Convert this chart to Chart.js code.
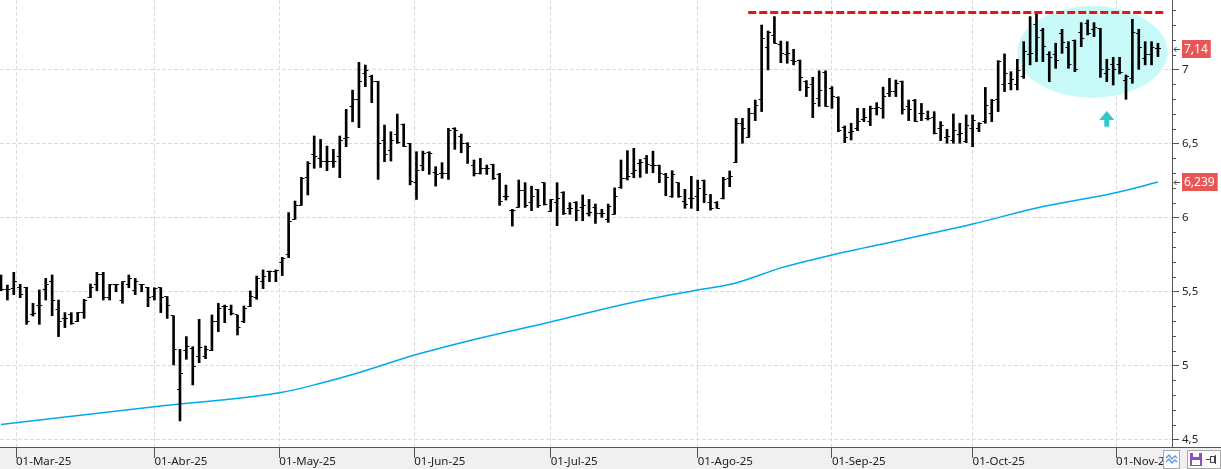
<!DOCTYPE html>
<html>
<head>
<meta charset="utf-8">
<script src="https://cdn.jsdelivr.net/npm/chart.js@4.4.1/dist/chart.umd.min.js"></script>
<style>
html, body { margin: 0; padding: 0; background: #fff; overflow: hidden; }
#wrap { position: relative; width: 1221px; height: 469px; }
.btn { position: absolute; box-sizing: border-box; border: 1px solid #a9a9a9; background: #fbfbfb; }
.btn svg { display: block; }
</style>
</head>
<body>
<div id="wrap">
  <canvas id="chart" width="1221" height="469"></canvas>
  <div class="btn" style="left:1163px;top:450px;width:17px;height:19px">
    <svg width="15" height="17" viewBox="0 0 15 17">
      <polyline points="2,7 5,4 8,8 11,5 13,7" fill="none" stroke="#5a9fe6" stroke-width="1.3"/>
      <polyline points="2,11 5,8 8,12 11,9 13,11" fill="none" stroke="#5a9fe6" stroke-width="1.3"/>
    </svg>
  </div>
  <div class="btn" style="left:1187px;top:450px;width:34px;height:19px">
    <svg width="32" height="17" viewBox="0 0 32 17">
      <rect x="2" y="2" width="12" height="13" fill="#8b4fc2"/>
      <rect x="5" y="2" width="6" height="4" fill="#fff"/>
      <rect x="4" y="9" width="8" height="5" fill="#fff"/>
      <line x1="18" y1="8.5" x2="22" y2="8.5" stroke="#444"/>
      <rect x="22.5" y="5.5" width="4" height="6" fill="none" stroke="#444"/>
      <line x1="27.5" y1="4" x2="27.5" y2="13" stroke="#444"/>
    </svg>
  </div>
</div>
<script>
// Cotización diaria (OHLC), 182 sesiones, feb-nov 2025
const openP = [
  5.549,5.511,5.52,5.529,5.529,5.342,5.403,5.511,5.567,5.380,
  5.319,5.342,5.297,5.360,5.459,5.549,5.612,5.461,5.549,5.443,
  5.549,5.504,5.549,5.529,5.466,5.526,5.466,5.337,4.840,5.100,
  5.117,5.061,5.061,5.101,5.297,5.398,5.380,5.342,5.297,5.398,
  5.461,5.567,5.634,5.634,5.695,5.752,5.988,6.082,6.271,6.428,
  6.400,6.380,6.377,6.410,6.530,6.748,6.797,6.970,6.950,6.920,
  6.523,6.450,6.563,6.631,6.500,6.235,6.354,6.440,6.302,6.298,
  6.298,6.600,6.550,6.500,6.354,6.300,6.330,6.360,6.290,6.140,
  6.044,6.068,6.180,6.100,6.190,6.235,6.040,6.100,6.170,6.060,
  6.100,6.066,6.030,6.070,6.024,5.987,6.021,6.200,6.260,6.300,
  6.365,6.399,6.350,6.350,6.290,6.140,6.235,6.107,6.130,6.140,
  6.253,6.100,6.100,6.130,6.260,6.370,6.636,6.541,6.700,6.798,
  7.149,7.230,7.170,7.100,7.059,7.060,6.920,6.900,6.800,6.980,
  6.870,6.810,6.610,6.573,6.600,6.660,6.650,6.737,6.737,6.840,
  6.850,6.920,6.750,6.788,6.703,6.670,6.676,6.600,6.541,6.520,
  6.560,6.510,6.600,6.600,6.650,6.700,6.798,6.900,6.906,6.900,
  6.950,7.100,7.300,7.260,7.100,7.100,7.243,7.150,7.198,7.248,
  7.310,7.270,7.277,6.970,7.030,7.030,6.924,6.940,7.240,7.074,
  7.100,7.140
];
const highP = [
  5.612,5.544,5.630,5.549,5.529,5.421,5.511,5.589,5.612,5.443,
  5.358,5.358,5.360,5.448,5.551,5.630,5.630,5.549,5.549,5.567,
  5.612,5.589,5.549,5.529,5.526,5.526,5.466,5.337,5.110,5.196,
  5.128,5.313,5.133,5.342,5.421,5.409,5.409,5.342,5.403,5.504,
  5.605,5.646,5.639,5.646,5.731,6.033,6.111,6.271,6.377,6.550,
  6.527,6.482,6.460,6.550,6.730,6.860,7.047,7.029,6.961,6.920,
  6.624,6.579,6.698,6.631,6.500,6.444,6.448,6.444,6.343,6.370,
  6.602,6.606,6.563,6.505,6.388,6.399,6.354,6.360,6.298,6.219,
  6.055,6.253,6.235,6.212,6.190,6.235,6.122,6.235,6.174,6.100,
  6.107,6.152,6.122,6.091,6.055,6.091,6.200,6.388,6.451,6.467,
  6.392,6.419,6.448,6.354,6.298,6.316,6.235,6.190,6.278,6.253,
  6.253,6.156,6.107,6.271,6.314,6.669,6.669,6.737,6.793,7.299,
  7.259,7.356,7.191,7.187,7.135,7.063,6.924,6.946,6.990,6.990,
  6.883,6.815,6.618,6.636,6.737,6.737,6.752,6.775,6.880,6.939,
  6.928,6.921,6.793,6.797,6.770,6.719,6.714,6.647,6.595,6.699,
  6.636,6.692,6.692,6.640,6.878,6.797,7.059,7.104,6.984,7.068,
  7.187,7.356,7.378,7.277,7.119,7.176,7.270,7.187,7.198,7.315,
  7.333,7.315,7.277,7.068,7.081,7.081,6.962,7.338,7.270,7.187,
  7.187,7.176
];
const lowP = [
  5.506,5.443,5.479,5.459,5.279,5.335,5.279,5.443,5.337,5.196,
  5.257,5.279,5.297,5.319,5.459,5.506,5.443,5.443,5.499,5.421,
  5.526,5.479,5.499,5.398,5.443,5.358,5.319,5.005,4.627,5.043,
  4.870,5.020,5.047,5.101,5.230,5.290,5.342,5.207,5.290,5.398,
  5.448,5.520,5.567,5.567,5.608,5.729,5.988,6.082,6.152,6.332,
  6.338,6.316,6.338,6.269,6.478,6.646,6.606,6.883,6.775,6.257,
  6.377,6.381,6.500,6.478,6.220,6.122,6.316,6.291,6.212,6.264,
  6.257,6.460,6.437,6.365,6.280,6.293,6.291,6.257,6.082,6.118,
  5.942,6.068,6.068,6.046,6.068,6.084,6.040,5.945,6.020,6.021,
  5.978,5.978,6.010,5.960,6.001,5.967,6.021,6.197,6.253,6.269,
  6.271,6.298,6.302,6.235,6.147,6.136,6.136,6.062,6.062,6.046,
  6.100,6.050,6.062,6.125,6.208,6.370,6.501,6.541,6.654,6.715,
  6.996,7.176,7.045,7.041,7.030,6.856,6.816,6.674,6.750,6.750,
  6.737,6.579,6.505,6.523,6.586,6.647,6.620,6.692,6.670,6.816,
  6.816,6.698,6.654,6.647,6.654,6.658,6.564,6.519,6.501,6.501,
  6.501,6.505,6.478,6.579,6.636,6.647,6.715,6.850,6.861,6.861,
  6.939,7.030,7.052,7.052,6.917,7.007,7.108,7.007,6.984,7.153,
  7.232,7.221,6.946,6.917,6.894,6.969,6.798,6.906,7.000,7.030,
  7.030,7.086
];
const closeP = [
  5.511,5.511,5.567,5.481,5.301,5.353,5.403,5.549,5.443,5.301,
  5.319,5.286,5.358,5.443,5.526,5.612,5.461,5.549,5.549,5.567,
  5.589,5.567,5.549,5.461,5.522,5.461,5.403,5.110,4.948,5.128,
  4.993,5.124,5.106,5.297,5.387,5.398,5.353,5.257,5.387,5.466,
  5.589,5.601,5.634,5.639,5.720,5.972,6.080,6.262,6.366,6.410,
  6.377,6.380,6.380,6.520,6.540,6.797,6.916,6.990,6.920,6.500,
  6.426,6.523,6.505,6.478,6.240,6.320,6.433,6.433,6.293,6.300,
  6.590,6.590,6.500,6.478,6.298,6.330,6.330,6.260,6.107,6.140,
  6.050,6.180,6.084,6.140,6.080,6.090,6.120,6.130,6.025,6.060,
  6.044,6.084,6.033,6.024,6.024,6.073,6.140,6.264,6.275,6.320,
  6.370,6.360,6.354,6.298,6.270,6.287,6.140,6.090,6.130,6.197,
  6.152,6.062,6.062,6.258,6.276,6.636,6.602,6.699,6.753,7.209,
  7.250,7.176,7.108,7.108,7.056,6.946,6.879,6.771,6.860,6.750,
  6.820,6.586,6.541,6.580,6.647,6.676,6.737,6.740,6.820,6.850,
  6.906,6.730,6.730,6.647,6.700,6.670,6.568,6.624,6.550,6.590,
  6.568,6.620,6.658,6.636,6.759,6.793,7.052,6.970,6.930,6.991,
  7.120,7.108,7.216,7.153,7.081,7.063,7.180,7.030,7.000,7.210,
  7.243,7.283,7.000,6.996,7.000,6.978,6.950,7.248,7.149,7.100,
  7.149,7.140
];

const maIndex = [0, 24, 44, 50, 55, 65, 75, 86, 97, 109, 115, 122, 130, 141, 152, 163, 174, 181];
const maValue = [4.603, 4.723, 4.82, 4.881, 4.94, 5.075, 5.187, 5.295, 5.41, 5.511, 5.558, 5.66, 5.747, 5.85, 5.956, 6.074, 6.163, 6.239];

// eje X: inicio de cada mes (posición en sesiones)
const monthLabels = ['01-Mar-25', '01-Abr-25', '01-May-25', '01-Jun-25', '01-Jul-25', '01-Ago-25', '01-Sep-25', '01-Oct-25', '01-Nov-25'];
const monthPos = [2.35, 24, 43.55, 64.65, 86, 109, 130, 152, 174.45];

// eje Y
const yTickValues = [4.5, 5, 5.5, 6, 6.5, 7];
const yTickLabels = ['4,5', '5', '5,5', '6', '6,5', '7'];

// anotaciones
const resistance = { price: 7.385, from: 116.9, to: 182.2 };
const zone = { from: 159, to: 182.5, low: 6.808, high: 7.427 };
const arrowMark = { at: 173, tip: 6.719, base: 6.613 };

const xMin = -0.156, xMax = 183.2;
const yMin = 4.451, yMax = 7.468;

function tickImage(side) {
    const c = document.createElement('canvas');
    c.width = 8;
    c.height = 1;
    const g = c.getContext('2d');
    g.fillStyle = '#000';
    if (side === 'open') g.fillRect(1, 0, 3, 1);
    else g.fillRect(4, 0, 3, 1);
    return c;
}

function isMajor(v) {
    return Math.abs(v * 2 - Math.round(v * 2)) < 1e-6;
}

function fmt(v) {
    return String(v).replace('.', ',');
}

function noPadding(s) {
    s.paddingTop = 0;
    s.paddingBottom = 0;
    s.paddingLeft = 0;
    s.paddingRight = 0;
}

const overlay = {
    id: 'overlay',
    beforeDraw(chart) {
        const { ctx, width, height, chartArea } = chart;
        ctx.save();
        ctx.fillStyle = '#fff';
        ctx.fillRect(0, 0, width, height);
        ctx.fillStyle = '#f0f0f0';
        ctx.fillRect(0, chartArea.bottom, width, height - chartArea.bottom);
        ctx.restore();
    },
    beforeDatasetsDraw(chart) {
        const { ctx } = chart;
        const x = chart.scales.x, y = chart.scales.y;
        const x1 = x.getPixelForValue(zone.from), x2 = x.getPixelForValue(zone.to);
        const y1 = y.getPixelForValue(zone.high), y2 = y.getPixelForValue(zone.low);
        ctx.save();
        ctx.beginPath();
        ctx.ellipse((x1 + x2) / 2, (y1 + y2) / 2, (x2 - x1) / 2, (y2 - y1) / 2, 0, 0, Math.PI * 2);
        ctx.fillStyle = '#c8fafa';
        ctx.fill();
        ctx.restore();
    },
    afterDatasetsDraw(chart) {
        const { ctx } = chart;
        const x = chart.scales.x, y = chart.scales.y;
        // línea de resistencia
        const ry = Math.round(y.getPixelForValue(resistance.price)) + 0.5;
        ctx.save();
        ctx.strokeStyle = '#ee1111';
        ctx.lineWidth = 3;
        ctx.setLineDash([8, 3]);
        ctx.beginPath();
        ctx.moveTo(x.getPixelForValue(resistance.from), ry);
        ctx.lineTo(x.getPixelForValue(resistance.to), ry);
        ctx.stroke();
        ctx.restore();
        // flecha
        const ax = x.getPixelForValue(arrowMark.at);
        const tip = y.getPixelForValue(arrowMark.tip);
        const base = y.getPixelForValue(arrowMark.base);
        ctx.save();
        ctx.fillStyle = '#33c9c9';
        ctx.beginPath();
        ctx.moveTo(ax, tip);
        ctx.lineTo(ax + 7.5, tip + 9);
        ctx.lineTo(ax + 2.5, tip + 9);
        ctx.lineTo(ax + 2.5, base);
        ctx.lineTo(ax - 2.5, base);
        ctx.lineTo(ax - 2.5, tip + 9);
        ctx.lineTo(ax - 7.5, tip + 9);
        ctx.closePath();
        ctx.fill();
        ctx.restore();
    },
    afterDraw(chart) {
        const { ctx, width, chartArea } = chart;
        const y = chart.scales.y;
        ctx.save();
        // línea inferior a todo lo ancho
        ctx.strokeStyle = '#555';
        ctx.lineWidth = 1;
        ctx.beginPath();
        ctx.moveTo(0, chartArea.bottom + 0.5);
        ctx.lineTo(width, chartArea.bottom + 0.5);
        ctx.stroke();
        // marcas menores del eje de precios
        y.ticks.forEach(t => {
            if (isMajor(t.value)) return;
            const py = Math.round(y.getPixelForValue(t.value)) + 0.5;
            ctx.beginPath();
            ctx.moveTo(chartArea.right, py);
            ctx.lineTo(chartArea.right + 4, py);
            ctx.stroke();
        });
        // etiquetas de último precio y media
        const tags = [
            { v: closeP[closeP.length - 1], text: fmt(closeP[closeP.length - 1]) },
            { v: maValue[maValue.length - 1], text: fmt(maValue[maValue.length - 1]) }
        ];
        ctx.font = "12px 'Noto Sans', sans-serif";
        ctx.textBaseline = 'middle';
        tags.forEach(tag => {
            const py = Math.round(y.getPixelForValue(tag.v));
            const w = ctx.measureText(tag.text).width + 5;
            ctx.fillStyle = '#e85656';
            ctx.fillRect(chartArea.right + 10, py - 9, w, 18);
            ctx.fillStyle = '#fff';
            ctx.fillText(tag.text, chartArea.right + 12, py + 0.5);
            ctx.strokeStyle = '#444';
            ctx.beginPath();
            ctx.moveTo(chartArea.right + 2, py + 0.5);
            ctx.lineTo(chartArea.right + 8, py + 0.5);
            ctx.moveTo(chartArea.right + 4.5, py - 2);
            ctx.lineTo(chartArea.right + 2, py + 0.5);
            ctx.lineTo(chartArea.right + 4.5, py + 3);
            ctx.stroke();
        });
        ctx.restore();
    }
};

Chart.defaults.font.family = "'Noto Sans', sans-serif";
Chart.defaults.font.size = 11.5;

new Chart(document.getElementById('chart'), {
    type: 'scatter',
    data: {
        datasets: [
            {
                type: 'line',
                data: maIndex.map((v, i) => ({ x: v, y: maValue[i] })),
                borderColor: '#00a9ee',
                borderWidth: 1.5,
                pointRadius: 0,
                showLine: true,
                cubicInterpolationMode: 'monotone',
                order: 4
            },
            {
                type: 'bar',
                data: highP.map((h, i) => ({ x: i, y: [lowP[i], h] })),
                backgroundColor: '#000',
                borderWidth: 0,
                barThickness: 2,
                order: 3
            },
            {
                type: 'scatter',
                data: openP.map((v, i) => ({ x: i, y: v })),
                pointStyle: tickImage('open'),
                pointRadius: 2,
                order: 2
            },
            {
                type: 'scatter',
                data: closeP.map((v, i) => ({ x: i, y: v })),
                pointStyle: tickImage('close'),
                pointRadius: 2,
                order: 1
            }
        ]
    },
    options: {
        responsive: false,
        animation: false,
        devicePixelRatio: 1,
        events: [],
        layout: { padding: 0, autoPadding: false },
        plugins: {
            legend: { display: false },
            tooltip: { enabled: false }
        },
        scales: {
            x: {
                type: 'linear',
                position: 'bottom',
                min: xMin,
                max: xMax,
                bounds: 'data',
                offset: false,
                afterBuildTicks: s => { s.ticks = monthPos.map(v => ({ value: v })); },
                afterFit: s => { s.height = 22; noPadding(s); },
                ticks: {
                    autoSkip: false,
                    maxRotation: 0,
                    align: 'start',
                    padding: -3,
                    color: '#222',
                    callback: (v, i) => monthLabels[i]
                },
                grid: { color: '#dcdcdc', tickColor: '#555', tickLength: 11, offset: false },
                border: { color: '#555', dash: [4, 2] }
            },
            y: {
                type: 'linear',
                position: 'right',
                min: yMin,
                max: yMax,
                bounds: 'data',
                afterBuildTicks: s => {
                    const t = [];
                    for (let k = 45; k <= 74; k++) t.push({ value: k / 10 });
                    s.ticks = t;
                },
                afterFit: s => { s.width = 49; noPadding(s); },
                ticks: {
                    autoSkip: false,
                    padding: 3,
                    color: '#222',
                    callback: v => {
                        const i = yTickValues.findIndex(t => Math.abs(t - v) < 1e-6);
                        return i >= 0 ? yTickLabels[i] : '';
                    }
                },
                grid: {
                    color: c => isMajor(c.tick.value) ? '#dcdcdc' : 'rgba(0,0,0,0)',
                    tickColor: c => isMajor(c.tick.value) ? '#555' : 'rgba(0,0,0,0)',
                    tickLength: 7
                },
                border: { color: '#555', dash: [4, 2] }
            }
        }
    },
    plugins: [overlay]
});
</script>
</body>
</html>
